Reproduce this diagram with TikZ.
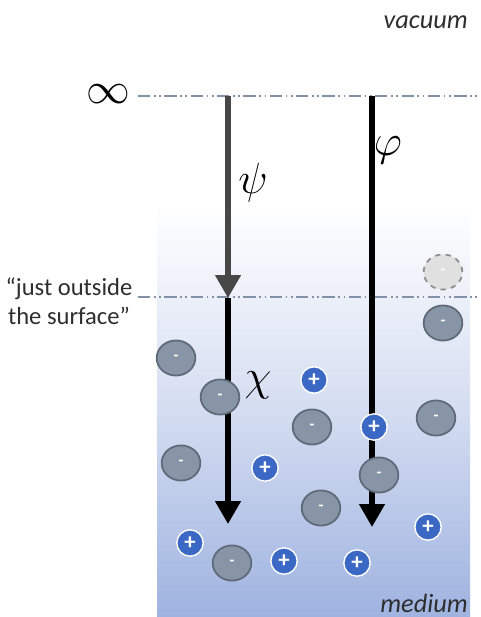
\documentclass[tikz,border=0pt]{standalone}
\usepackage{fontspec}
\setmainfont{Carlito}
\usetikzlibrary{arrows.meta, positioning, shapes.geometric}
\definecolor{cmedium}{HTML}{9FB3E0}
\definecolor{cline}{HTML}{8391A8}
\definecolor{cneg}{HTML}{8795A6}
\definecolor{cnegdark}{HTML}{5E6A78}
\definecolor{cpos}{HTML}{3A68C4}
\definecolor{ctext}{HTML}{2E2E2E}
\tikzset{
  every picture/.style={font=\fontsize{14}{16}\selectfont, text=ctext},
  level/.style={draw=cline, line width=1.2pt, dash pattern=on 7pt off 2pt on 1pt off 2pt on 1pt off 2pt},
  pot/.style={-{Triangle[width=14pt, length=13pt]}, line width=3pt},
  nion/.style={ellipse, draw=cnegdark, fill=cneg, line width=1pt, minimum width=22pt, minimum height=20pt, inner sep=0pt, text=white, font=\bfseries\small},
  pion/.style={circle, draw=white, fill=cpos, line width=0.8pt, minimum size=15pt, inner sep=0pt, text=white, font=\bfseries\fontsize{13}{13}\selectfont},
  greek/.style={font=\fontsize{30}{32}\selectfont, text=black},
  label/.style={font=\fontsize{15}{17}\selectfont\itshape, anchor=east},
}

\begin{document}
\begin{tikzpicture}[x=0.02cm, y=-0.02cm]
  \useasboundingbox (0,0) rectangle (480,617);
  % the medium
  \shade[top color=white, bottom color=cmedium, middle color=cmedium!45] (157,205) rectangle (470,617);
  \node[label] (vac) at (474,22) {vacuum};
  \node[label] (med) at (474,603) {medium};
  % reference levels
  \node[greek, font=\fontsize{25}{27}\selectfont] (inf) at (108,94) {$\infty$};
  \coordinate (infend) at (480,96);
  \draw[level] (138,96) -- (infend);
  \node[align=center, font=\fontsize{14}{16.5}\selectfont] (surf) at (69,301) {``just outside\\the surface''};
  \coordinate (surfend) at (480,297);
  \draw[level] (138,297) -- (surfend);
  % potentials
  \coordinate (top1) at (228,96);
  \coordinate (mid1) at (228,298);
  \coordinate (bot1) at (228,524);
  \coordinate (top2) at (372,96);
  \coordinate (bot2) at (372,527);
  \draw[pot, draw=black!72] (top1) -- (mid1);
  \draw[pot, draw=black] (mid1) -- (bot1);
  \draw[pot, draw=black] (top2) -- (bot2);
  \node[greek] (psi) at (253,183) {$\psi$};
  \node[greek] (phi) at (388,150) {$\varphi$};
  \node[greek, font=\fontsize{32}{34}\selectfont] (chi) at (258,385) {$\chi$};
  % ions
  \node[nion, draw=black!45, dashed, fill=black!12, text=white] (ghost) at (443,272) {-};
  \foreach \p [count=\i] in {(176,358), (220,397), (312,427), (436,418), (181,463), (379,475), (321,508), (232,563), (443,323)}
    \node[nion] (n\i) at \p {-};
  \foreach \p [count=\i] in {(314,380), (374,427), (265,468), (428,527), (190,543), (284,561), (357,563)}
    \node[pion] (p\i) at \p {+};
\end{tikzpicture}
\end{document}
